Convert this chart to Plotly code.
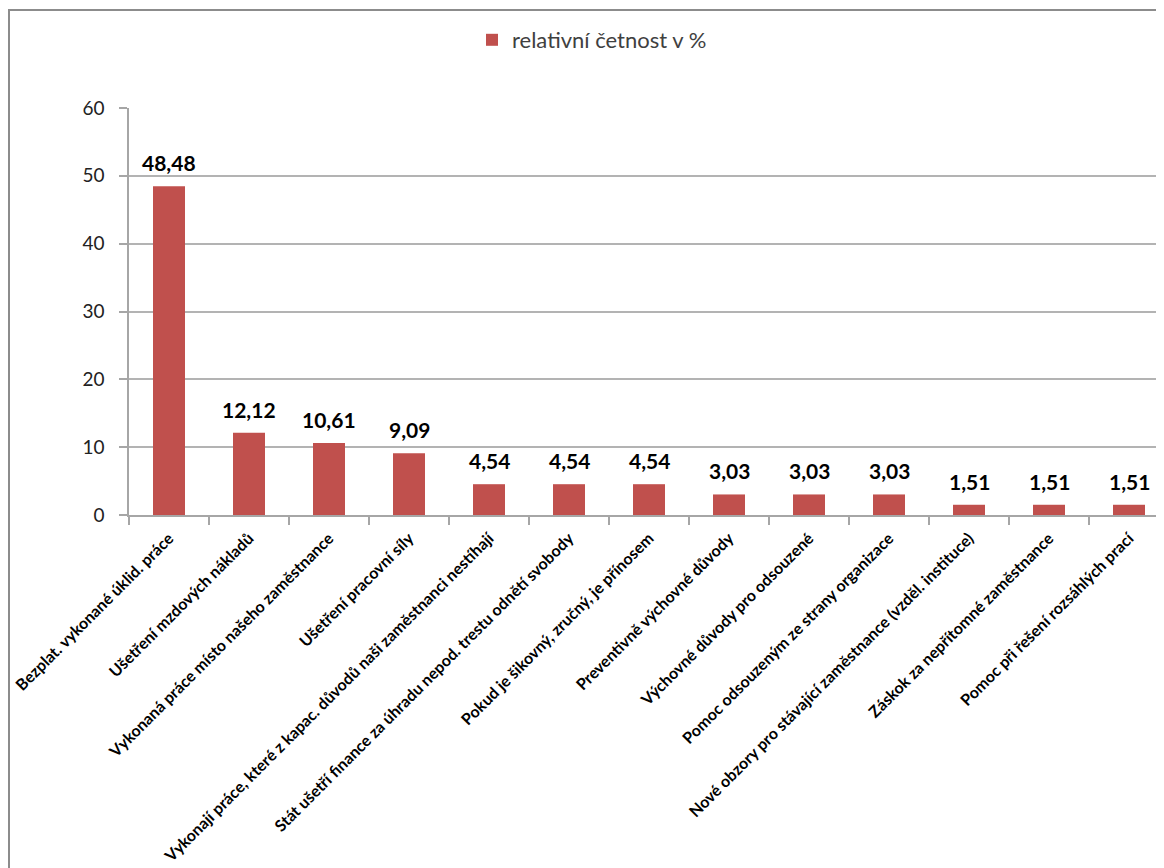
import plotly.graph_objects as go

categories = [
    "Bezplat. vykonané úklid. práce",
    "Ušetření mzdových nákladů",
    "Vykonaná práce místo našeho zaměstnance",
    "Ušetření pracovní síly",
    "Vykonají práce, které z kapac. důvodů naši zaměstnanci nestíhají",
    "Stát ušetří finance za úhradu nepod. trestu odnětí svobody",
    "Pokud je šikovný, zručný, je přínosem",
    "Preventivně výchovné důvody",
    "Výchovné důvody pro odsouzené",
    "Pomoc odsouzeným ze strany organizace",
    "Nové obzory pro stávající zaměstnance (vzděl. instituce)",
    "Záskok za nepřítomné zaměstnance",
    "Pomoc při řešení rozsáhlých prací",
]
values = [48.48, 12.12, 10.61, 9.09, 4.54, 4.54, 4.54, 3.03, 3.03, 3.03, 1.51, 1.51, 1.51]
series_name = "relativní četnost v %"
y_ticks = [0, 10, 20, 30, 40, 50, 60]

W, H = 1164, 868
ML, MT = 121, 100
MB = H - 507

fig = go.Figure()
fig.add_trace(go.Bar(
    x=categories, y=values, name=series_name,
    marker=dict(color="#C0504D", line=dict(color="#C0504D", width=0)),
    width=0.4,
    showlegend=True,
))

# data labels (decimal comma), raised above the bars like the reference
for c, v in zip(categories, values):
    fig.add_annotation(
        x=c, y=v, xref="x", yref="y",
        text=f"{v:.2f}".replace(".", ","),
        showarrow=False, yanchor="bottom", yshift=9,
        font=dict(family="Lato", size=21, color="#000000", weight="bold"),
    )

fig.update_layout(
    width=W, height=H,
    margin=dict(l=ML, r=0, t=MT, b=MB),
    paper_bgcolor="white", plot_bgcolor="white",
    separators=", ",
    bargap=0.6,
    showlegend=True,
    legend=dict(
        orientation="h", xref="container", yref="container",
        x=464 / W, xanchor="left", y=1 - 32 / H, yanchor="middle",
        font=dict(family="Lato", size=22, color="#404040"),
        itemwidth=30,
    ),
    xaxis=dict(
        type="category",
        range=[-0.5, -0.5 + (W - ML) / 80.0],
        tickangle=-45,
        tickson="boundaries",
        ticks="outside", ticklen=8, tickcolor="#A6A6A6", tickwidth=1.5,
        showline=True, linecolor="#A6A6A6", linewidth=1.5,
        showgrid=False,
        tickfont=dict(family="Lato", size=16, color="#000000", weight="bold"),
        ticklabelstandoff=6,
    ),
    yaxis=dict(
        range=[0, 60], tickvals=y_ticks,
        ticks="outside", ticklen=8, tickcolor="#A6A6A6", tickwidth=1.5,
        showline=True, linecolor="#A6A6A6", linewidth=1.5,
        showgrid=True, gridcolor="#B3B3B3", gridwidth=1.5,
        zeroline=False,
        tickfont=dict(family="Lato", size=19, color="#222222"),
        ticklabelstandoff=11,
    ),
)

# outer chart frame (partially cut by the window like the reference)
pw = W - ML
ph = H - MT - MB
fig.add_shape(type="rect", xref="paper", yref="paper",
              x0=(1 - ML) / pw, x1=1.2, y0=-1.2, y1=(H - MB - 2) / ph,
              line=dict(color="#8C8C8C", width=2), layer="below")

fig.write_html("out.html")
